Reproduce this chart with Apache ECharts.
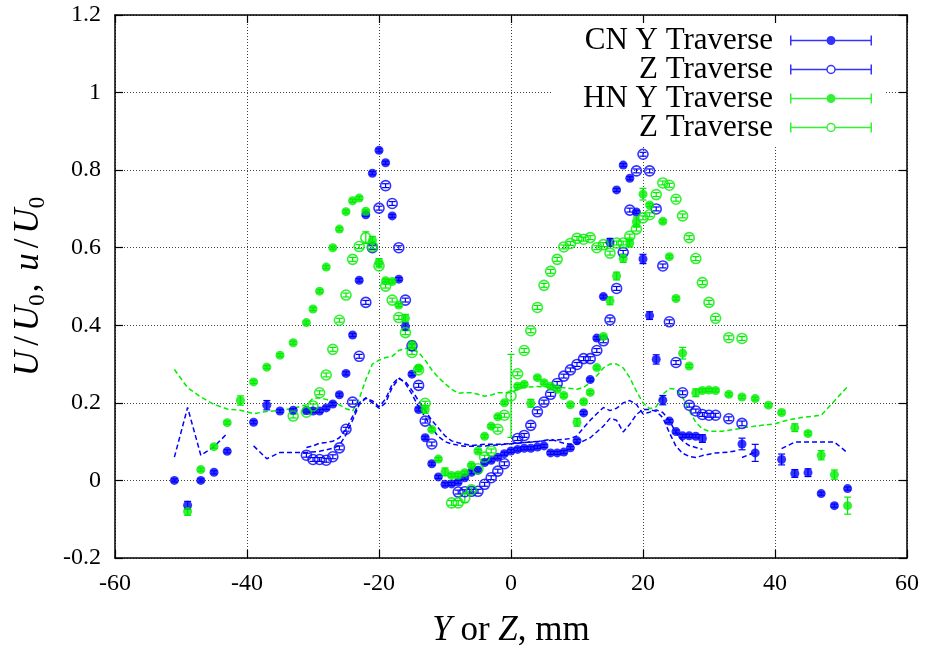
<!DOCTYPE html>
<html>
<head>
<meta charset="utf-8">
<script src="https://cdn.jsdelivr.net/npm/echarts@6/dist/echarts.min.js"></script>
<style>html,body{margin:0;padding:0;background:#fff}#c{width:931px;height:648px}</style>
</head>
<body>
<div id="c"></div>
<script>
// ---- data ----
const xTicks = [-60, -40, -20, 0, 20, 40, 60];
const yTicks = [-0.2, 0, 0.2, 0.4, 0.6, 0.8, 1, 1.2];

// CN, Y traverse (filled blue)
const cnYx = [-51,-49,-47,-45,-43,-39,-37,-35,-33,-31,-30,-29,-28,-27,-26,-25,-24,-23,-22,-21,-20,-19,-18,-17,-16,-15,-14,-13,-12,-11,-10,-9,-8,-7,-6,-5,-4,-3,-2,-1,0,1,2,3,4,5,6,7,8,9,10,11,12,13,14,15,16,17,18,19,20,21,22,23,24,25,26,27,28,29,35,37,41,43,45,47,49,51];
const cnYy = [0,-0.064,0,0.021,0.075,0.15,0.194,0.179,0.181,0.18,0.179,0.179,0.187,0.197,0.221,0.276,0.375,0.516,0.685,0.792,0.851,0.819,0.682,0.519,0.397,0.274,0.183,0.11,0.043,0.009,-0.01,-0.009,-0.004,0.007,0.021,0.026,0.046,0.052,0.06,0.069,0.076,0.08,0.083,0.083,0.086,0.089,0.071,0.071,0.073,0.084,0.102,0.174,0.26,0.367,0.474,0.614,0.749,0.813,0.779,0.692,0.571,0.425,0.312,0.207,0.153,0.126,0.115,0.115,0.114,0.108,0.094,0.071,0.054,0.018,0.02,-0.034,-0.065,-0.021];
const cnYe = [0.004,0.01,0.004,0.004,0.004,0.004,0.012,0.004,0.004,0.004,0.004,0.004,0.004,0.004,0.004,0.004,0.004,0.004,0.004,0.004,0.004,0.004,0.004,0.004,0.01,0.004,0.004,0.004,0.004,0.004,0.004,0.004,0.004,0.004,0.004,0.004,0.004,0.004,0.004,0.004,0.004,0.004,0.004,0.004,0.004,0.004,0.004,0.004,0.004,0.004,0.004,0.004,0.004,0.004,0.004,0.01,0.004,0.004,0.004,0.004,0.012,0.01,0.012,0.012,0.004,0.004,0.004,0.004,0.004,0.01,0.015,0.022,0.014,0.01,0.01,0.004,0.004,0.004];

// CN, Z traverse (open blue)
const cnZx = [-31,-30,-29,-28,-27,-26,-25,-24,-23,-22,-21,-20,-19,-18,-17,-16,-15,-14,-13,-12,-8,-7,-6,-5,-4,-3,-2,-1,1,2,3,4,5,6,7,8,9,10,11,12,13,14,15,16,17,18,19,20,21,22,23,24,25,26,27,28,29,30,31,33,35];
const cnZy = [0.065,0.054,0.054,0.052,0.061,0.084,0.132,0.202,0.32,0.459,0.6,0.702,0.76,0.714,0.6,0.465,0.347,0.245,0.153,0.094,-0.03,-0.029,-0.028,-0.028,-0.01,0.007,0.024,0.043,0.108,0.116,0.142,0.177,0.202,0.222,0.25,0.269,0.285,0.299,0.314,0.314,0.335,0.36,0.414,0.495,0.588,0.697,0.798,0.841,0.798,0.70,0.553,0.409,0.304,0.226,0.194,0.179,0.17,0.168,0.168,0.159,0.147];
const cnZe = [0.005,0.005,0.005,0.005,0.005,0.005,0.005,0.005,0.005,0.005,0.005,0.005,0.005,0.005,0.005,0.005,0.005,0.005,0.005,0.005,0.005,0.005,0.005,0.005,0.005,0.005,0.005,0.005,0.005,0.005,0.005,0.005,0.005,0.005,0.005,0.005,0.005,0.005,0.005,0.005,0.005,0.005,0.005,0.005,0.005,0.005,0.005,0.005,0.005,0.005,0.005,0.005,0.005,0.005,0.005,0.005,0.005,0.005,0.005,0.005,0.006];

// HN, Y traverse (filled green)
const hnYx = [-49,-47,-45,-43,-41,-39,-37,-35,-33,-31,-30,-29,-28,-27,-26,-25,-24,-23,-22,-21,-20,-19,-18,-17,-16,-15,-14,-13,-12,-11,-10,-9,-8,-7,-6,-5,-4,-3,-2,-1,1,2,3,4,5,6,7,8,9,10,11,12,13,14,15,16,17,18,19,20,21,23,24,25,26,27,28,29,30,31,33,35,37,39,41,43,45,47,49,51];
const hnYy = [-0.08,0.028,0.087,0.149,0.206,0.254,0.292,0.323,0.355,0.407,0.442,0.488,0.55,0.6,0.648,0.693,0.721,0.728,0.694,0.619,0.562,0.515,0.513,0.452,0.418,0.349,0.29,0.183,0.131,0.055,0.022,0.013,0.014,0.02,0.039,0.076,0.114,0.14,0.164,0.2,0.243,0.248,0.199,0.265,0.252,0.243,0.235,0.219,0.195,0.15,0.203,0.227,0.291,0.371,0.463,0.527,0.572,0.612,0.667,0.738,0.71,0.668,0.577,0.469,0.328,0.295,0.226,0.232,0.233,0.232,0.222,0.215,0.211,0.194,0.175,0.136,0.121,0.065,0.015,-0.065];
const hnYe = [0.01,0.004,0.004,0.004,0.012,0.004,0.004,0.004,0.004,0.004,0.004,0.004,0.004,0.004,0.004,0.004,0.004,0.004,0.004,0.01,0.01,0.004,0.004,0.004,0.01,0.01,0.004,0.01,0.004,0.004,0.01,0.004,0.004,0.004,0.004,0.004,0.004,0.004,0.004,0.004,0.004,0.004,0.01,0.004,0.004,0.004,0.004,0.004,0.004,0.01,0.004,0.004,0.004,0.004,0.01,0.01,0.01,0.01,0.012,0.015,0.004,0.004,0.004,0.004,0.015,0.004,0.01,0.004,0.004,0.004,0.004,0.004,0.004,0.004,0.004,0.01,0.004,0.012,0.012,0.022];

// HN, Z traverse (open green)
const hnZx = [-33,-31,-30,-29,-28,-27,-26,-25,-24,-23,-22,-21,-20,-19,-18,-17,-16,-15,-14,-13,-9,-8,-7,-6,-5,-4,-3,-2,-1,0,1,2,3,4,5,6,7,8,9,10,11,12,13,14,15,16,17,18,19,20,21,22,23,24,25,26,27,28,29,30,31,33,35];
const hnZy = [0.166,0.176,0.192,0.226,0.272,0.338,0.413,0.478,0.57,0.603,0.626,0.603,0.553,0.501,0.465,0.42,0.381,0.33,0.285,0.199,-0.058,-0.058,-0.045,-0.024,0.03,0.06,0.076,0.132,0.168,0.218,0.275,0.335,0.386,0.446,0.503,0.539,0.57,0.602,0.611,0.624,0.622,0.626,0.6,0.608,0.586,0.612,0.612,0.63,0.648,0.677,0.685,0.737,0.767,0.761,0.725,0.682,0.626,0.572,0.51,0.459,0.418,0.368,0.366];
const hnZe = [0.005,0.005,0.005,0.005,0.005,0.005,0.005,0.005,0.005,0.005,0.015,0.005,0.005,0.005,0.005,0.005,0.005,0.005,0.005,0.005,0.006,0.006,0.012,0.005,0.005,0.005,0.005,0.005,0.005,0.107,0.005,0.005,0.005,0.005,0.005,0.005,0.005,0.005,0.005,0.005,0.005,0.005,0.005,0.005,0.005,0.005,0.005,0.005,0.005,0.005,0.005,0.005,0.005,0.005,0.005,0.005,0.005,0.005,0.005,0.005,0.005,0.005,0.005];

// fluctuation profiles u/U0 (dashed), null = gap
const cnYuX = [-51,-49,-47,-45,-43,-41,-39,-37,-35,-33,-31,-29,-27,-26,-25,-24,-23,-22,-21,-20,-19,-18,-17,-16,-15,-14,-13,-12,-11,-10,-9,-7,-5,-3,-1,1,3,5,7,9,10,11,12,13,14,15,16,17,18,19,20,21,22,23,24,25,26,27,28,29,31,35,37,39,41,43,45,47,49,51];
const cnYu = [0.06,0.188,0.065,0.087,0.121,null,0.089,0.056,0.072,0.072,0.072,0.075,0.083,0.09,0.118,0.155,0.195,0.212,0.205,0.19,0.21,0.248,0.265,0.25,0.222,0.19,0.163,0.135,0.113,0.1,0.094,0.088,0.088,0.09,0.093,0.096,0.099,0.102,0.104,0.108,0.115,0.136,0.155,0.172,0.188,0.18,0.186,0.2,0.206,0.196,0.172,0.176,0.182,0.175,0.155,0.122,0.102,0.09,0.085,0.08,null,0.059,0.073,null,0.082,0.099,0.099,0.099,0.099,0.071];
const cnZuX = [-31,-30,-29,-28,-27,-26,-25,-24,-23,-22,-21,-20,-19,-18,-17,-16,-15,-14,-13,-12,-11,-10,-9,-8,-6,-4,-2,0,2,4,6,8,9,10,11,12,13,14,15,16,17,18,19,20,21,22,23,24,25,26,27,28,29,31,33,34];
const cnZu = [0.085,0.089,0.096,0.098,0.101,0.11,0.132,0.165,0.2,0.213,0.2,0.186,0.2,0.24,0.262,0.255,0.232,0.205,0.18,0.155,0.135,0.115,0.102,0.097,0.09,0.093,0.093,0.095,0.098,0.1,0.106,0.096,0.093,0.093,0.102,0.11,0.125,0.14,0.16,0.155,0.125,0.145,0.17,0.183,0.183,0.178,0.162,0.123,0.088,0.07,0.062,0.059,0.064,0.071,0.073,0.076];
const hnYuX = [-51,-49,-47,-45,-43,-41,-39,-37,-35,-33,-31,-30,-29,-28,-27,-26,-25,-24,-23,-22,-21,-20,-19,-18,-17,-16,-15,-14,-13,-12,-11,-10,-9,-8,-7,-6,-5,-4,-3,-2,-1,0,1,2,4,6,8,10,11,12,13,14,15,16,17,18,19,20,21,22,23,24,25,26,27,28,29,30,32,34,36,38,40,42,44,46,47,49,51];
const hnYu = [0.286,0.239,0.215,0.196,0.184,0.181,0.172,0.178,0.18,0.186,0.195,0.212,0.213,0.209,0.203,0.195,0.185,0.179,0.21,0.26,0.3,0.31,0.317,0.32,0.335,0.34,0.338,0.33,0.31,0.285,0.265,0.25,0.235,0.225,0.226,0.226,0.222,0.217,0.22,0.226,0.226,0.226,0.235,0.24,0.242,0.241,0.239,0.235,0.24,0.252,0.27,0.29,0.3,0.3,0.29,0.265,0.23,0.2,0.185,0.19,0.222,0.237,0.235,0.215,0.18,0.15,0.133,0.127,0.127,0.132,0.138,0.142,0.146,0.156,0.162,0.166,0.168,0.205,0.242];

const seriesNames = ['CN Y Traverse', 'CN Z Traverse', 'HN Y Traverse', 'HN Z Traverse'];
const legendLabels = {'CN Y Traverse': 'CN Y Traverse', 'CN Z Traverse': 'Z Traverse', 'HN Y Traverse': 'HN Y Traverse', 'HN Z Traverse': 'Z Traverse'};

// ---- styling ----
const BLUE = '#0000ff';
const GREEN = '#00ee00';
const FONT = 'Liberation Serif';

const iconFilled = 'path://M0,0H1.5V10H0Z M80.5,0H82V10H80.5Z M0,4.25H82V5.75H0Z M36.5,5A4.5,4.5,0,1,1,45.5,5A4.5,4.5,0,1,1,36.5,5Z';
const iconOpen = 'path://M0,0H1.5V10H0Z M80.5,0H82V10H80.5Z M0,4.25H36.4V5.75H0Z M45.6,4.25H82V5.75H45.6Z M36.25,5A4.75,4.75,0,1,1,45.75,5A4.75,4.75,0,1,1,36.25,5Z M37.75,5A3.25,3.25,0,1,0,44.25,5A3.25,3.25,0,1,0,37.75,5Z';

function pts(xs, ys) { return xs.map((x, i) => [x, ys[i] === null ? '-' : ys[i]]); }
function pts3(xs, ys, es) { return xs.map((x, i) => [x, ys[i], es[i]]); }

function errRender(params, api) {
  const x = api.value(0), y = api.value(1), e = api.value(2);
  const p0 = api.coord([x, y - e]);
  const p1 = api.coord([x, y + e]);
  const w = 3.5;
  const style = {stroke: api.visual('color'), lineWidth: 1.2, fill: null};
  return {
    type: 'group',
    children: [
      {type: 'line', shape: {x1: p0[0], y1: p0[1], x2: p1[0], y2: p1[1]}, style: style},
      {type: 'line', shape: {x1: p0[0] - w, y1: p0[1], x2: p0[0] + w, y2: p0[1]}, style: style},
      {type: 'line', shape: {x1: p1[0] - w, y1: p1[1], x2: p1[0] + w, y2: p1[1]}, style: style}
    ]
  };
}

function dashed(name, xs, ys, color) {
  return {type: 'line', name: name, data: pts(xs, ys), symbol: 'none', showSymbol: false,
    connectNulls: false, silent: true, z: 1,
    lineStyle: {color: color, width: 1.5, type: [5, 3]}};
}
function filled(name, xs, ys, color) {
  return {type: 'scatter', name: name, data: pts(xs, ys), symbol: 'circle', symbolSize: 9,
    itemStyle: {color: color}, z: 2, silent: true};
}
function open(name, xs, ys, color) {
  return {type: 'scatter', name: name, data: pts(xs, ys), symbol: 'circle', symbolSize: 10,
    itemStyle: {color: 'rgba(255,255,255,0)', borderColor: color, borderWidth: 1.6}, z: 2, silent: true};
}
function errs(name, xs, ys, es, color) {
  return {type: 'custom', name: name, data: pts3(xs, ys, es), renderItem: errRender,
    encode: {x: 0, y: 1}, itemStyle: {color: color}, z: 2, silent: true};
}

const axisLineStyle = {show: true, onZero: false, lineStyle: {color: '#000', width: 1.5}};
const tickStyle = {show: true, inside: true, length: 8, lineStyle: {color: '#000', width: 1.2}};
const gridLine = {show: true, lineStyle: {color: '#444', width: 1, type: [1, 2]}};

const chart = echarts.init(document.getElementById('c'), null, {renderer: 'canvas'});
chart.setOption({
  animation: false,
  backgroundColor: '#fff',
  textStyle: {fontFamily: FONT},
  grid: {left: 115, right: 24, top: 15, bottom: 90, containLabel: false, outerBoundsMode: 'none'},
  xAxis: [
    {type: 'value', min: xTicks[0], max: xTicks[xTicks.length - 1], interval: 20,
      axisLine: axisLineStyle, axisTick: tickStyle, splitLine: gridLine,
      axisLabel: {color: '#000', fontSize: 24, fontFamily: FONT, margin: 14},
      name: '{i|Y} or {i|Z}, mm', nameLocation: 'middle', nameGap: 55,
      nameTextStyle: {color: '#000', fontSize: 35, fontFamily: FONT,
        rich: {i: {fontStyle: 'italic', fontSize: 35, fontFamily: FONT}}}},
    {type: 'value', position: 'top', min: xTicks[0], max: xTicks[xTicks.length - 1], interval: 20,
      axisLine: axisLineStyle, axisTick: tickStyle, splitLine: {show: false},
      axisLabel: {show: false}, z: 6}
  ],
  yAxis: [
    {type: 'value', min: yTicks[0], max: yTicks[yTicks.length - 1], interval: 0.2,
      axisLine: axisLineStyle, axisTick: tickStyle, splitLine: gridLine,
      axisLabel: {color: '#000', fontSize: 24, fontFamily: FONT, margin: 14,
        formatter: v => String(Math.round(v * 10) / 10)},
      name: '{i|U}{sl|/}{i|U}{s|0}{c|,} {i|u}{sl|/}{i|U}{s|0}', nameLocation: 'middle', nameGap: 66, nameRotate: 90,
      nameTextStyle: {color: '#000', fontSize: 35, fontFamily: FONT, lineHeight: 40,
        rich: {i: {fontStyle: 'italic', fontSize: 35, fontFamily: FONT},
               sl: {fontSize: 35, fontFamily: FONT, padding: [0, 5, 0, 5]},
               c: {fontSize: 35, fontFamily: FONT, padding: [0, 4, 0, 2]},
               s: {fontSize: 23, fontFamily: FONT, verticalAlign: 'bottom', lineHeight: 23}}}},
    {type: 'value', position: 'right', min: yTicks[0], max: yTicks[yTicks.length - 1], interval: 0.2,
      axisLine: axisLineStyle, axisTick: tickStyle, splitLine: {show: false},
      axisLabel: {show: false}, z: 6}
  ],
  legend: {
    data: [
      {name: seriesNames[0], icon: iconFilled, itemStyle: {color: BLUE, borderWidth: 0, borderColor: BLUE}},
      {name: seriesNames[1], icon: iconOpen, itemStyle: {color: BLUE, borderWidth: 0, borderColor: BLUE}},
      {name: seriesNames[2], icon: iconFilled, itemStyle: {color: GREEN, borderWidth: 0, borderColor: GREEN}},
      {name: seriesNames[3], icon: iconOpen, itemStyle: {color: GREEN, borderWidth: 0, borderColor: GREEN}}
    ],
    orient: 'vertical', align: 'right', right: 45, top: 21,
    itemWidth: 82, itemHeight: 10, itemGap: -2,
    padding: [4, 14, 3, 30], backgroundColor: '#fff',
    selectedMode: false, z: 4,
    formatter: n => legendLabels[n],
    textStyle: {color: '#000', fontFamily: FONT, fontSize: 31, lineHeight: 29, padding: [0, 12, 0, 0]}
  },
  series: [
    dashed('CN Y u', cnYuX, cnYu, BLUE),
    dashed('CN Z u', cnZuX, cnZu, BLUE),
    dashed('HN Y u', hnYuX, hnYu, GREEN),
    filled(seriesNames[0], cnYx, cnYy, BLUE),
    errs('CN Y err', cnYx, cnYy, cnYe, BLUE),
    open(seriesNames[1], cnZx, cnZy, BLUE),
    errs('CN Z err', cnZx, cnZy, cnZe, BLUE),
    filled(seriesNames[2], hnYx, hnYy, GREEN),
    errs('HN Y err', hnYx, hnYy, hnYe, GREEN),
    open(seriesNames[3], hnZx, hnZy, GREEN),
    errs('HN Z err', hnZx, hnZy, hnZe, GREEN)
  ]
});
</script>
</body>
</html>
